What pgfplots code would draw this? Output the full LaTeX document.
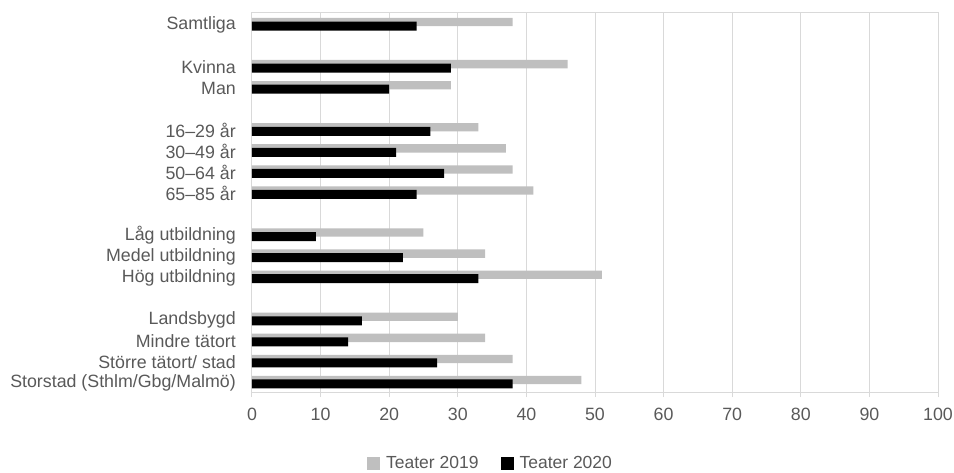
\documentclass[border=0pt]{standalone}
\usepackage{fontspec}
\setmainfont{Liberation Sans}
\usepackage{pgfplots}
\pgfplotsset{compat=1.18}
\definecolor{txt}{HTML}{595959}
\definecolor{g19}{HTML}{BFBFBF}
\definecolor{gridc}{HTML}{D9D9D9}
\begin{document}
\fontsize{17.8pt}{21pt}\selectfont
\begin{tikzpicture}[x=1pt,y=1pt]
\begin{axis}[
  at={(252pt,80pt)}, anchor=south west,
  scale only axis, width=686pt, height=379pt,
  xmin=0, xmax=100, ymin=-0.5, ymax=17.5,
  xtick={0,10,...,100},
  xmajorgrids, grid style={gridc, line width=1pt},
  axis line style={gridc, line width=1pt},
  ytick={17,15,14,12,11,10,9,7,6,5,3,2,1,0},
  yticklabels={Samtliga\hspace{0.28em},Kvinna,Man,16–29 år,30–49 år,50–64 år,65–85 år,Låg utbildning,Medel utbildning,Hög utbildning,Landsbygd,Mindre tätort,Större tätort/ stad,Storstad (Sthlm/Gbg/Malmö)},
  y tick style={draw=none},
  x tick style={gridc, line width=1pt},
  xtick pos=bottom,
  tick align=outside, major tick length=5pt,
  /pgf/number format/assume math mode=true,
  tick label style={font=\fontsize{17.8pt}{21pt}\selectfont, text=txt},
  yticklabel style={anchor=east, inner sep=0pt, xshift=-11pt, yshift=-1.5pt},
  xticklabel style={inner sep=0pt, anchor=north, yshift=-11pt},
  xbar,
  legend style={at={(axis description cs:0.3477,-0.188)}, anchor=center, draw=none, fill=none,
    legend columns=2, font=\fontsize{17.5pt}{21pt}\selectfont, text=txt,
    /tikz/every odd column/.append style={column sep=4pt},
    /tikz/every even column/.append style={column sep=20pt}},
  legend image code/.code={\fill[#1] (0pt,-6.5pt) rectangle (13pt,6.5pt);},
]
\addplot[fill=g19, draw=none, bar width=8.3pt, bar shift=1.5pt] coordinates {
(38,17) (46,15) (29,14) (33,12) (37,11) (38,10) (41,9) (25,7) (34,6) (51,5) (30,3) (34,2) (38,1) (48,0)};
\addplot[fill=black, draw=none, bar width=9pt, bar shift=-2.5pt] coordinates {
(24,17) (29,15) (20,14) (26,12) (21,11) (28,10) (24,9) (9.3,7) (22,6) (33,5) (16,3) (14,2) (27,1) (38,0)};
\legend{Teater 2019, Teater 2020}
\end{axis}
\pgfresetboundingbox
\path (0,0) rectangle (954,472);
\end{tikzpicture}
\end{document}
